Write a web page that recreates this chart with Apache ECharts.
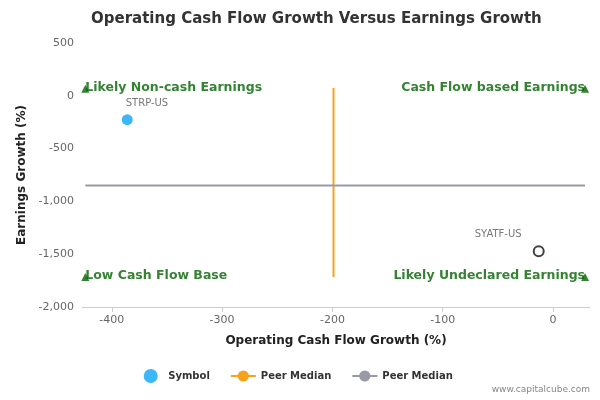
<!DOCTYPE html><html><head><meta charset="utf-8"><script src="https://cdn.jsdelivr.net/npm/echarts@6/dist/echarts.min.js"></script></head><body style="margin:0"><div id="c" style="width:600px;height:400px"></div><script>
const symbolPts=[[-386,-226,'STRP-US']];
const peerPts=[[-13,-1472,'SYATF-US']];
const medianX=-199, medianY=-849;
const vLine=[[medianX,75],[medianX,-1717]];
const hLine=[[-424,medianY],[29,medianY]];
const corners=[[-424,66,'Likely Non-cash Earnings','left'],[29,66,'Cash Flow based Earnings','right'],[-424,-1717,'Low Cash Flow Base','left'],[29,-1717,'Likely Undeclared Earnings','right']];
const xTicks=[-400,-300,-200,-100,0];
const c=echarts.init(document.getElementById('c'));
const F='DejaVu Sans';
c.setOption({animation:false,textStyle:{fontFamily:F},
title:{text:'Operating Cash Flow Growth Versus Earnings Growth',left:86,top:7,textStyle:{fontSize:15,fontWeight:'bold',color:'#333',fontFamily:F}},
grid:{left:82,right:10,top:43,bottom:93},
xAxis:{type:'value',min:-427,max:33.5,name:'Operating Cash Flow Growth (%)',nameLocation:'middle',nameGap:28,nameTextStyle:{fontWeight:'bold',fontSize:12,color:'#222'},
 axisLine:{show:true,onZero:false,lineStyle:{color:'#c0d0e0'}},splitLine:{show:false},
 axisLabel:{color:'#666',fontSize:11,customValues:xTicks},axisTick:{show:true,customValues:xTicks,lineStyle:{color:'#c0d0e0'}}},
yAxis:{type:'value',min:-2000,max:500,interval:500,name:'Earnings Growth (%)',nameLocation:'middle',nameGap:52,nameTextStyle:{fontWeight:'bold',fontSize:12,color:'#222'},
 axisLine:{show:false,onZero:false},axisTick:{show:false},splitLine:{show:false},axisLabel:{color:'#666',fontSize:11}},
legend:{bottom:12,left:'center',itemGap:20,textStyle:{fontWeight:'bold',fontSize:10,color:'#333'},
 data:[{name:'Symbol',icon:'circle'},{name:'Peer Median'},{name:'Peer Median '}]},
graphic:[{type:'text',right:10,bottom:6,style:{text:'www.capitalcube.com',fill:'#888',fontSize:9,fontFamily:F}}],
series:[
{name:'Symbol',type:'scatter',data:symbolPts,symbolSize:11,itemStyle:{color:'#0ba5f5'},label:{show:true,formatter:p=>p.data[2],position:[4,-16],color:'#555',fontSize:10}},
{name:'peer',type:'scatter',data:peerPts,symbolSize:10,itemStyle:{color:'#fff',borderColor:'#111',borderWidth:2},label:{show:true,formatter:p=>p.data[2],position:[-58,-16],color:'#555',fontSize:10}},
{name:'Peer Median',type:'line',data:vLine,symbol:'none',lineStyle:{color:'#f7a21b',width:2},itemStyle:{color:'#f7a21b'}},
{name:'Peer Median ',type:'line',data:hLine,symbol:'none',lineStyle:{color:'#9a9aa6',width:2},itemStyle:{color:'#9a9aa6'}},
{type:'scatter',data:corners,symbol:'triangle',symbolSize:8,itemStyle:{color:'#006400'},
 label:{show:true,formatter:p=>p.data[2],color:'#006400',fontWeight:'bold',fontSize:12.5,position:'top'},
 labelLayout:p=>{const d=corners[p.dataIndex];return d[3]==='left'?{x:p.rect.x+4,y:p.rect.y-4,align:'left'}:{x:p.rect.x+4,y:p.rect.y-4,align:'right'};}}
]});
</script></body></html>
